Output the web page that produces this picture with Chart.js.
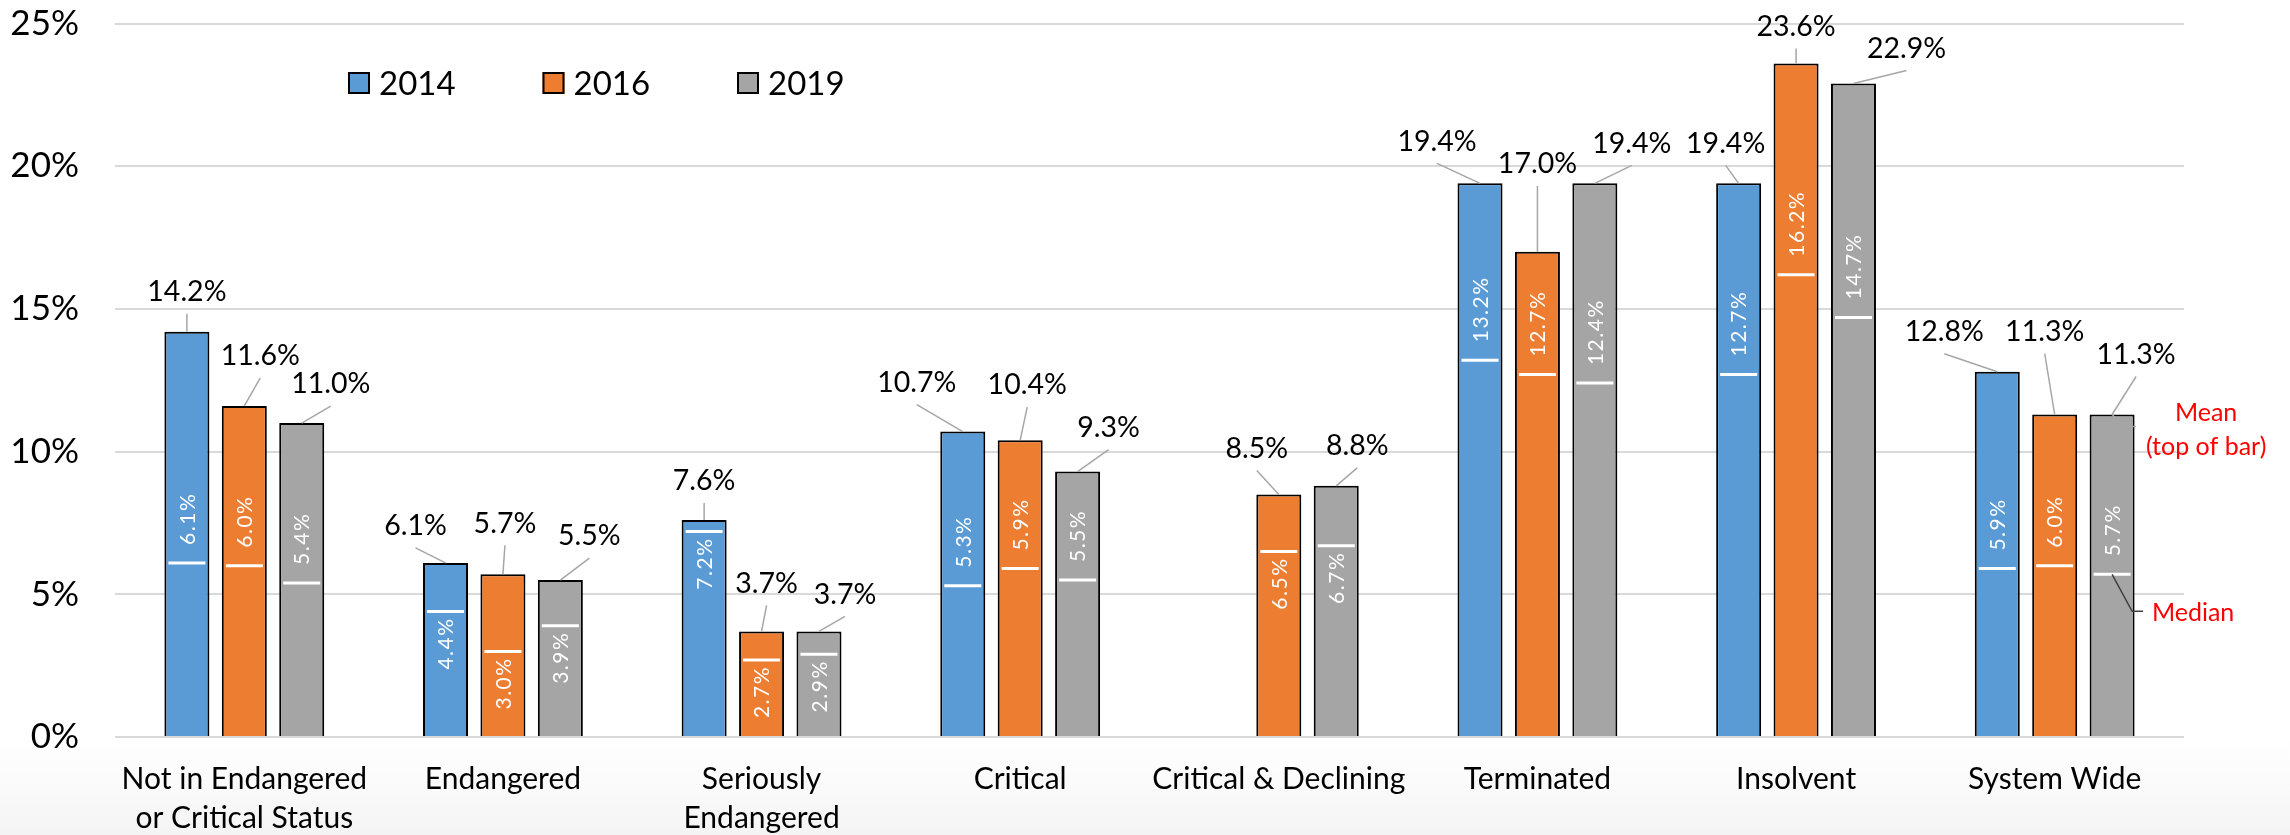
<!DOCTYPE html>
<html><head><meta charset="utf-8">
<script src="https://cdn.jsdelivr.net/npm/chart.js@4.4.1/dist/chart.umd.min.js"></script>
<style>html,body{margin:0;padding:0;background:#fff;} canvas{display:block;}</style>
</head><body>
<canvas id="c" width="2290" height="835"></canvas>
<script>
// ---- data ----
const categories = [['Not in Endangered','or Critical Status'],'Endangered',['Seriously','Endangered'],'Critical','Critical & Declining','Terminated','Insolvent','System Wide'];
const seriesLabels = ['2014','2016','2019'];
const mean2014 = [14.2, 6.1, 7.6, 10.7, null, 19.4, 19.4, 12.8];
const mean2016 = [11.6, 5.7, 3.7, 10.4, 8.5, 17.0, 23.6, 11.3];
const mean2019 = [11.0, 5.5, 3.7, 9.3, 8.8, 19.4, 22.9, 11.3];
const median2014 = [6.1, 4.4, 7.2, 5.3, null, 13.2, 12.7, 5.9];
const median2016 = [6.0, 3.0, 2.7, 5.9, 6.5, 12.7, 16.2, 6.0];
const median2019 = [5.4, 3.9, 2.9, 5.5, 6.7, 12.4, 14.7, 5.7];
const yTickLabels = ['0%','5%','10%','15%','20%','25%'];

// ---- layout of the moved data labels (offset of label centre from bar top, px) ----
const labelOffsets = [
  [[0,-40],[-30,-37],[0,-39],[-46,-49],null,[-43,-42],[-13,-40],[-53,-40]],
  [[16,-50],[2,-51],[5,-48],[7,-55],[-22,-46],[0,-88],[0,-37],[-10,-83]],
  [[29,-39],[29,-44],[26,-37],[31,-44],[21,-40],[37,-40],[53,-35],[24,-60]]
];
const medianLabelBelow = [false,true,true,false,true,false,false,false];

const FONT = 'Lato, "Liberation Sans", sans-serif';
const colors = ['#5b9bd5','#ed7d31','#a5a5a5'];

const background = {
  id: 'background',
  beforeDraw(chart) {
    const ctx = chart.ctx;
    const top = chart.chartArea.bottom + 2;
    const g = ctx.createLinearGradient(0, top, 0, chart.height);
    g.addColorStop(0, 'rgba(246,246,246,0)');
    g.addColorStop(1, 'rgba(244,244,244,1)');
    ctx.save();
    ctx.fillStyle = g;
    ctx.fillRect(0, top, chart.width, chart.height - top);
    ctx.restore();
  }
};

const overlay = {
  id: 'overlay',
  afterDatasetsDraw(chart) {
    const ctx = chart.ctx;
    const ys = chart.scales.y;
    chart.data.datasets.forEach((ds, di) => {
      const meta = chart.getDatasetMeta(di);
      meta.data.forEach((bar, i) => {
        const v = ds.data[i];
        if (v == null) return;
        const w = bar.width;
        const m = ds.medians[i];
        const ym = ys.getPixelForValue(m);
        ctx.save();
        ctx.strokeStyle = '#ffffff'; ctx.lineWidth = 3;
        ctx.beginPath(); ctx.moveTo(bar.x - w/2 + 4, ym); ctx.lineTo(bar.x + w/2 - 4, ym); ctx.stroke();
        const below = medianLabelBelow[i];
        ctx.translate(bar.x, below ? ym + 6 : ym - 18);
        ctx.rotate(-Math.PI/2);
        ctx.fillStyle = '#ffffff'; ctx.font = '21px ' + FONT;
        ctx.letterSpacing = '1.5px';
        ctx.textBaseline = 'middle'; ctx.textAlign = below ? 'right' : 'left';
        ctx.fillText(m.toFixed(1) + '%', 0, 1);
        ctx.restore();

        const off = labelOffsets[di][i];
        const lx = bar.x + off[0], ly = bar.y + off[1];
        ctx.save();
        ctx.strokeStyle = '#a6a6a6'; ctx.lineWidth = 1.5;
        ctx.beginPath(); ctx.moveTo(lx, ly + 22); ctx.lineTo(bar.x, bar.y); ctx.stroke();
        ctx.fillStyle = '#000'; ctx.font = '28.5px ' + FONT;
        ctx.textAlign = 'center'; ctx.textBaseline = 'middle';
        ctx.fillText(v.toFixed(1) + '%', lx, ly);
        ctx.restore();
      });
    });

    // legend
    ctx.save();
    chart.data.datasets.forEach((ds, di) => {
      const bx = 348 + di * 194.5, by = 72;
      ctx.fillStyle = ds.backgroundColor;
      ctx.fillRect(bx, by, 22, 22);
      ctx.strokeStyle = '#000'; ctx.lineWidth = 2;
      ctx.strokeRect(bx + 1, by + 1, 20, 20);
      ctx.fillStyle = '#000'; ctx.font = '33px ' + FONT;
      ctx.textAlign = 'left'; ctx.textBaseline = 'middle';
      ctx.fillText(ds.label, bx + 31, by + 12);
    });
    ctx.restore();

    // Mean / Median annotations on last 2019 bar
    const lb = chart.getDatasetMeta(2).data[7];
    const ymed = ys.getPixelForValue(chart.data.datasets[2].medians[7]);
    ctx.save();
    ctx.strokeStyle = '#a6a6a6'; ctx.lineWidth = 1.5;
    ctx.beginPath(); ctx.moveTo(lb.x, lb.y); ctx.lineTo(lb.x + 12, lb.y + 12); ctx.lineTo(lb.x + 24, lb.y + 12); ctx.stroke();
    ctx.strokeStyle = '#404040';
    ctx.beginPath(); ctx.moveTo(lb.x, ymed); ctx.lineTo(lb.x + 20, ymed + 37); ctx.lineTo(lb.x + 31, ymed + 37); ctx.stroke();
    ctx.fillStyle = '#ff0000'; ctx.font = '25px ' + FONT;
    ctx.textAlign = 'center'; ctx.textBaseline = 'middle';
    ctx.fillText('Mean', lb.x + 94, lb.y - 2);
    ctx.fillText('(top of bar)', lb.x + 94, lb.y + 32);
    ctx.fillText('Median', lb.x + 81, ymed + 39);
    ctx.restore();
  }
};

const mkDs = (label, data, med, c) => ({
  label, data, medians: med, backgroundColor: c, borderColor: '#000', borderWidth: 2,
  categoryPercentage: 0.666, barPercentage: 0.784
});

new Chart(document.getElementById('c'), {
  type: 'bar',
  data: {
    labels: categories,
    datasets: [
      mkDs(seriesLabels[0], mean2014, median2014, colors[0]),
      mkDs(seriesLabels[1], mean2016, median2016, colors[1]),
      mkDs(seriesLabels[2], mean2019, median2019, colors[2])
    ]
  },
  options: {
    responsive: false, animation: false, devicePixelRatio: 1,
    layout: { padding: { top: 23.5, right: 106, left: 0, bottom: 0 } },
    plugins: { legend: { display: false }, tooltip: { enabled: false } },
    scales: {
      y: {
        min: 0, max: 25,
        ticks: { stepSize: 5, padding: 36, color: '#000', font: { family: FONT, size: 35 },
          callback: (v, i) => yTickLabels[i] },
        grid: { color: '#d9d9d9', lineWidth: 2, drawTicks: false },
        border: { display: false },
        afterFit(s) { s.width = 115; s.paddingTop = 0; s.paddingBottom = 0; }
      },
      x: {
        grid: { display: false, drawTicks: false },
        border: { display: false },
        ticks: { color: '#000', font: { family: FONT, size: 30, lineHeight: 1.3 }, padding: 23, maxRotation: 0, autoSkip: false },
        afterFit(s) { s.height = 98; s.paddingLeft = 0; s.paddingRight = 0; }
      }
    }
  },
  plugins: [background, overlay]
});
</script>
</body></html>
